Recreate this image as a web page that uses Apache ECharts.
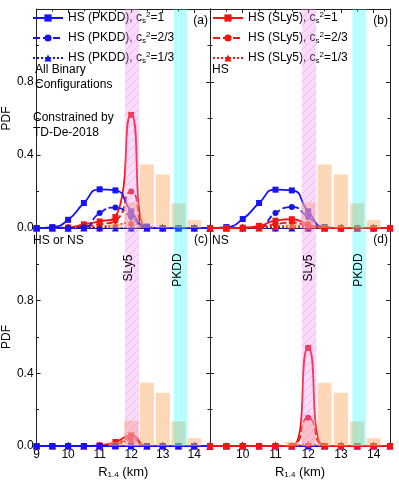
<!DOCTYPE html>
<html>
<head>
<meta charset="utf-8">
<script src="https://cdn.jsdelivr.net/npm/echarts@6/dist/echarts.min.js"></script>
<style>
html, body { margin: 0; padding: 0; background: #fff; }
#container { width: 399px; height: 497px; }
</style>
</head>
<body>
<div id="container"></div>
<script>
var dom = document.getElementById('container');
var myChart = echarts.init(dom, null, { renderer: 'canvas' });

// radius grid (km)
var radius = [9, 9.5, 10, 10.5, 11, 11.5, 12, 12.5, 13, 13.5, 14, 14.5];

// (a) all binary configurations
var pkdd1A  = [0, 0.005, 0.045, 0.137, 0.212, 0.206, 0.091, 0.008, 0, 0, 0, 0];
var pkdd23A = [0, 0, 0, 0.004, 0.082, 0.113, 0.06, 0.003, 0, 0, 0, 0];
var pkdd13A = [0, 0, 0, 0, 0, 0, 0, 0, 0, 0, 0, 0];
var sly1A   = [0, 0, 0.003, 0.02, 0.036, 0.06, 0.62, 0, 0, 0, 0, 0];
var sly23A  = [0, 0, 0, 0.01, 0.02, 0.04, 0.2, 0, 0, 0, 0, 0];
var sly13A  = [0, 0, 0, 0.003, 0.008, 0.015, 0.03, 0, 0, 0, 0, 0];
// (b) HS
var pkdd1B  = [0, 0.005, 0.049, 0.137, 0.21, 0.206, 0.091, 0.005, 0, 0, 0, 0];
var pkdd23B = [0, 0, 0, 0.004, 0.082, 0.115, 0.06, 0.003, 0, 0, 0, 0];
var pkdd13B = [0, 0, 0, 0, 0, 0, 0, 0, 0, 0, 0, 0];
var sly1B   = [0, 0, 0.002, 0.012, 0.04, 0.048, 0.02, 0, 0, 0, 0, 0];
var sly23B  = [0, 0, 0, 0.006, 0.02, 0.03, 0.012, 0, 0, 0, 0, 0];
var sly13B  = [0, 0, 0, 0.003, 0.008, 0.012, 0.005, 0, 0, 0, 0, 0];
// (c) HS or NS
var pkdd1C  = [0, 0, 0, 0, 0, 0, 0, 0, 0, 0, 0, 0];
var pkdd23C = [0, 0, 0, 0, 0, 0, 0, 0, 0, 0, 0, 0];
var pkdd13C = [0, 0, 0, 0, 0, 0, 0, 0, 0, 0, 0, 0];
var sly1C   = [0, 0, 0, 0, 0.004, 0.022, 0.058, 0, 0, 0, 0, 0];
var sly23C  = [0, 0, 0, 0, 0, 0.01, 0.045, 0, 0, 0, 0, 0];
var sly13C  = [0, 0, 0, 0, 0, 0.005, 0.035, 0, 0, 0, 0, 0];
// (d) NS
var pkdd1D  = [0, 0, 0, 0, 0, 0, 0, 0, 0, 0, 0, 0];
var pkdd23D = [0, 0, 0, 0, 0, 0, 0, 0, 0, 0, 0, 0];
var pkdd13D = [0, 0, 0, 0, 0, 0, 0, 0, 0, 0, 0, 0];
var sly1D   = [0, 0, 0, 0, 0, 0, 0.54, 0, 0, 0, 0, 0];
var sly23D  = [0, 0, 0, 0, 0, 0, 0.155, 0, 0, 0, 0, 0];
var sly13D  = [0, 0, 0, 0, 0, 0, 0.01, 0, 0, 0, 0, 0];

// TD-De-2018 histogram
var histX = [11.5, 12, 12.5, 13, 13.5, 14];
var histY = [0.022, 0.14, 0.348, 0.293, 0.135, 0.043];

// EOS radius bands
var sly5Band = [11.8, 12.25];
var pkddBand = [13.35, 13.77];

var legendNames = {
  pkdd1: 'HS (PKDD), c{sub|s}{sup|2}=1',
  pkdd23: 'HS (PKDD), c{sub|s}{sup|2}=2/3',
  pkdd13: 'HS (PKDD), c{sub|s}{sup|2}=1/3',
  sly1: 'HS (SLy5), c{sub|s}{sup|2}=1',
  sly23: 'HS (SLy5), c{sub|s}{sup|2}=2/3',
  sly13: 'HS (SLy5), c{sub|s}{sup|2}=1/3'
};

var font = '"Liberation Sans", Arial, sans-serif';
var blue = '#1414f5';
var red = '#f51414';
var axisColor = '#222';

// hatch pattern for SLy5 band
var hatch = document.createElement('canvas');
hatch.width = 8; hatch.height = 8;
var hctx = hatch.getContext('2d');
hctx.fillStyle = 'rgba(240,140,240,0.3)';
hctx.fillRect(0, 0, 8, 8);
hctx.strokeStyle = 'rgba(225,120,225,0.35)';
hctx.lineWidth = 1;
hctx.beginPath();
hctx.moveTo(0, 8); hctx.lineTo(8, 0);
hctx.moveTo(-4, 4); hctx.lineTo(4, -4);
hctx.moveTo(4, 12); hctx.lineTo(12, 4);
hctx.stroke();

var panels = [
  { grid: { left: 30, top: 9, width: 180, height: 219 }, pkdd: [pkdd1A, pkdd23A, pkdd13A], sly: [sly1A, sly23A, sly13A], blueTop: true, bottomRow: false, leftCol: true },
  { grid: { left: 210, top: 9, width: 180, height: 219 }, pkdd: [pkdd1B, pkdd23B, pkdd13B], sly: [sly1B, sly23B, sly13B], blueTop: false, bottomRow: false, leftCol: false },
  { grid: { left: 30, top: 228, width: 180, height: 218 }, pkdd: [pkdd1C, pkdd23C, pkdd13C], sly: [sly1C, sly23C, sly13C], blueTop: true, bottomRow: true, leftCol: true },
  { grid: { left: 210, top: 228, width: 180, height: 218 }, pkdd: [pkdd1D, pkdd23D, pkdd13D], sly: [sly1D, sly23D, sly13D], blueTop: false, bottomRow: true, leftCol: false }
];

var grids = [], xAxes = [], yAxes = [], series = [];

function tickStyle() {
  return {
    axisLine: { show: true, onZero: false, lineStyle: { color: axisColor, width: 1 } },
    axisTick: { show: true, inside: true, length: 4, lineStyle: { color: axisColor } },
    minorTick: { show: true, splitNumber: 2, length: 2.5, lineStyle: { color: axisColor } },
    splitLine: { show: false },
    minorSplitLine: { show: false }
  };
}

function lineSeries(name, data, color, dash, symbol, size, gi, z) {
  return {
    name: name, type: 'line',
    xAxisIndex: gi * 2, yAxisIndex: gi * 2,
    data: radius.map(function (r, i) { return [r, data[i]]; }),
    smooth: 0.6,
    symbol: symbol, symbolSize: size, showSymbol: true,
    lineStyle: { color: color, width: 1.8, type: dash },
    itemStyle: { color: color },
    z: z,
    animation: false
  };
}

panels.forEach(function (p, gi) {
  grids.push(p.grid);
  var xb = Object.assign({
    type: 'value', gridIndex: gi, position: 'bottom', min: 9, max: 14.5, interval: 1,
    axisLabel: {
      show: p.bottomRow, margin: 3, fontSize: 12, color: '#000', fontFamily: font,
      showMaxLabel: false, showMinLabel: p.leftCol
    }
  }, tickStyle());
  if (p.bottomRow) {
    xb.name = 'R{sub|1.4} (km)';
    xb.nameLocation = 'middle';
    xb.nameGap = 20;
    xb.nameTextStyle = {
      fontSize: 13, color: '#000', fontFamily: font,
      rich: { sub: { fontSize: 8, verticalAlign: 'bottom', lineHeight: 10, padding: [8, 0, 0, 0], fontFamily: font } }
    };
  }
  var xt = Object.assign({
    type: 'value', gridIndex: gi, position: 'top', min: 9, max: 14.5, interval: 1,
    axisLabel: { show: false }
  }, tickStyle());
  xAxes.push(xb, xt);

  var yl = Object.assign({
    type: 'value', gridIndex: gi, position: 'left', min: 0, max: 1.2, interval: 0.4,
    axisLabel: {
      show: p.leftCol, margin: 3, fontSize: 12, color: '#000', fontFamily: font,
      showMaxLabel: false,
      formatter: function (v) { return v.toFixed(1); }
    }
  }, tickStyle());
  if (p.leftCol) {
    yl.name = 'PDF';
    yl.nameLocation = 'middle';
    yl.nameGap = 18;
    yl.nameTextStyle = { fontSize: 12, color: '#000', fontFamily: font };
  }
  var yr = Object.assign({
    type: 'value', gridIndex: gi, position: 'right', min: 0, max: 1.2, interval: 0.4,
    axisLabel: { show: false }
  }, tickStyle());
  yAxes.push(yl, yr);

  var zBlue = p.blueTop ? 4 : 3;
  var zRed = p.blueTop ? 3 : 4;
  series.push(
    lineSeries('sly1', p.sly[0], red, 'solid', 'rect', 6, gi, zRed),
    lineSeries('sly23', p.sly[1], red, [7, 3], 'circle', 6, gi, zRed),
    lineSeries('sly13', p.sly[2], red, [2, 2], 'triangle', 7, gi, zRed),
    lineSeries('pkdd1', p.pkdd[0], blue, 'solid', 'rect', 6, gi, zBlue),
    lineSeries('pkdd23', p.pkdd[1], blue, [7, 3], 'circle', 6, gi, zBlue),
    lineSeries('pkdd13', p.pkdd[2], blue, [2, 2], 'triangle', 7, gi, zBlue)
  );

  series.push({
    name: 'hist', type: 'bar',
    xAxisIndex: gi * 2, yAxisIndex: gi * 2,
    data: histX.map(function (x, i) { return [x, histY[i]]; }),
    barWidth: 14,
    itemStyle: { color: 'rgba(251,176,110,0.5)' },
    z: 5,
    silent: true,
    animation: false,
    markArea: {
      silent: true,
      z: 6,
      data: [
        [{ xAxis: sly5Band[0], itemStyle: { color: { image: hatch, repeat: 'repeat' } } }, { xAxis: sly5Band[1] }],
        [{ xAxis: pkddBand[0], itemStyle: { color: 'rgba(0,255,255,0.28)' } }, { xAxis: pkddBand[1] }]
      ]
    }
  });
});

var legendRich = {
  sub: { fontSize: 8, verticalAlign: 'bottom', lineHeight: 8, fontFamily: font, color: '#000' },
  sup: { fontSize: 8, verticalAlign: 'top', lineHeight: 8, fontFamily: font, color: '#000' }
};

function legendOpt(left, names) {
  return {
    left: left, top: 11, orient: 'vertical', padding: 0,
    itemWidth: 30, itemHeight: 9, itemGap: 6,
    selectedMode: false,
    data: names,
    formatter: function (n) { return legendNames[n]; },
    textStyle: { fontSize: 12, lineHeight: 14, color: '#000', fontFamily: font, rich: legendRich }
  };
}

function label(x, y, text, align) {
  return {
    type: 'text', x: x, y: y, z: 100,
    style: { text: text, font: '12px ' + font, fill: '#000', align: align || 'left', verticalAlign: 'middle', lineHeight: 15 }
  };
}

function bandLabel(x, y, text) {
  return {
    type: 'text', x: x, y: y, rotation: Math.PI / 2, z: 100,
    style: { text: text, font: '12px ' + font, fill: '#000', align: 'center', verticalAlign: 'middle' }
  };
}

var option = {
  animation: false,
  grid: grids,
  xAxis: xAxes,
  yAxis: yAxes,
  legend: [legendOpt(32, ['pkdd1', 'pkdd23', 'pkdd13']), legendOpt(212, ['sly1', 'sly23', 'sly13'])],
  series: series,
  graphic: [
    label(35, 77, 'All Binary\nConfigurations'),
    label(33, 125, 'Constrained by\nTD-De-2018'),
    label(212, 70, 'HS'),
    label(33, 241, 'HS or NS'),
    label(212, 241, 'NS'),
    label(208, 21, '(a)', 'right'),
    label(388, 21, '(b)', 'right'),
    label(208, 240, '(c)', 'right'),
    label(388, 240, '(d)', 'right'),
    bandLabel(128.5, 268, 'SLy5'),
    bandLabel(178, 270, 'PKDD'),
    bandLabel(309, 268, 'SLy5'),
    bandLabel(359, 270, 'PKDD')
  ]
};

myChart.setOption(option);
window.addEventListener('resize', myChart.resize);
</script>
</body>
</html>
